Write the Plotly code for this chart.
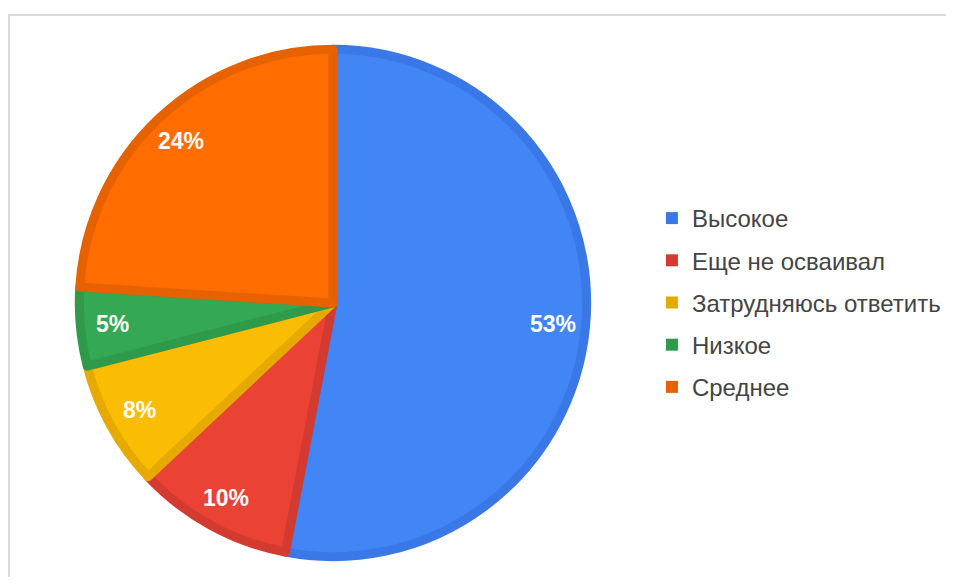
import math
import plotly.graph_objects as go

categories = ["Высокое", "Еще не осваивал", "Затрудняюсь ответить", "Низкое", "Среднее"]
values = [53, 10, 8, 5, 24]
fill_colors = ["#4285F4", "#EA4335", "#FBBC04", "#34A853", "#FF6D01"]
edge_colors = ["#3B78E7", "#D33B30", "#E5A900", "#2E9A4A", "#E66200"]

# figure size (page body has an 8px margin)
W, H = 938, 569
CX, CY = 326, 295          # pie centre in figure pixels (from top-left)
R_OUT = 259                # outer radius incl. stroke
STROKE = 9
R = R_OUT - STROKE / 2
LABEL_R = 222

fig = go.Figure()

fig.add_trace(go.Pie(
    labels=categories,
    values=values,
    sort=False,
    direction="clockwise",
    rotation=0,
    marker=dict(colors=fill_colors, line=dict(color=edge_colors, width=STROKE)),
    textinfo="none",
    domain=dict(x=[(CX - R) / W, (CX + R) / W],
                y=[(H - CY - R) / H, (H - CY + R) / H]),
    showlegend=False,
    hoverinfo="label+percent",
))

# percentage labels placed at the mid-angle of each slice
total = sum(values)
cum = 0
annotations = []
for v in values:
    mid = (cum + v / 2) / total * 2 * math.pi
    cum += v
    px = CX + LABEL_R * math.sin(mid)
    py = CY - LABEL_R * math.cos(mid)
    annotations.append(dict(
        x=px / W, y=1 - py / H, xref="paper", yref="paper",
        text=f"{round(v / total * 100)}%", showarrow=False,
        xanchor="center", yanchor="middle",
        font=dict(family="Liberation Sans, Arial, sans-serif", size=23, color="white", weight="bold"),
    ))

# legend entries (one group each so spacing can be controlled)
for cat, col in zip(categories, edge_colors):
    fig.add_trace(go.Scatter(
        x=[None], y=[None], mode="markers", name=cat,
        marker=dict(symbol="square", size=12, color=col),
        legendgroup=cat, showlegend=True,
    ))

fig.update_layout(
    width=W, height=H,
    margin=dict(l=0, r=0, t=0, b=0),
    paper_bgcolor="white", plot_bgcolor="white",
    xaxis=dict(visible=False), yaxis=dict(visible=False),
    legend=dict(
        x=646 / W, y=1 - 188 / H, xanchor="left", yanchor="top",
        font=dict(family="Liberation Sans, Arial, sans-serif", size=24, color="#444444"),
        tracegroupgap=8, bgcolor="rgba(0,0,0,0)",
    ),
    annotations=annotations,
    shapes=[dict(
        type="rect", xref="paper", yref="paper",
        x0=1 / W, x1=1.02, y0=-0.02, y1=1 - 7 / H,
        line=dict(color="#DADADA", width=2), fillcolor="rgba(0,0,0,0)", layer="below",
    )],
)

fig.write_html("out.html")
